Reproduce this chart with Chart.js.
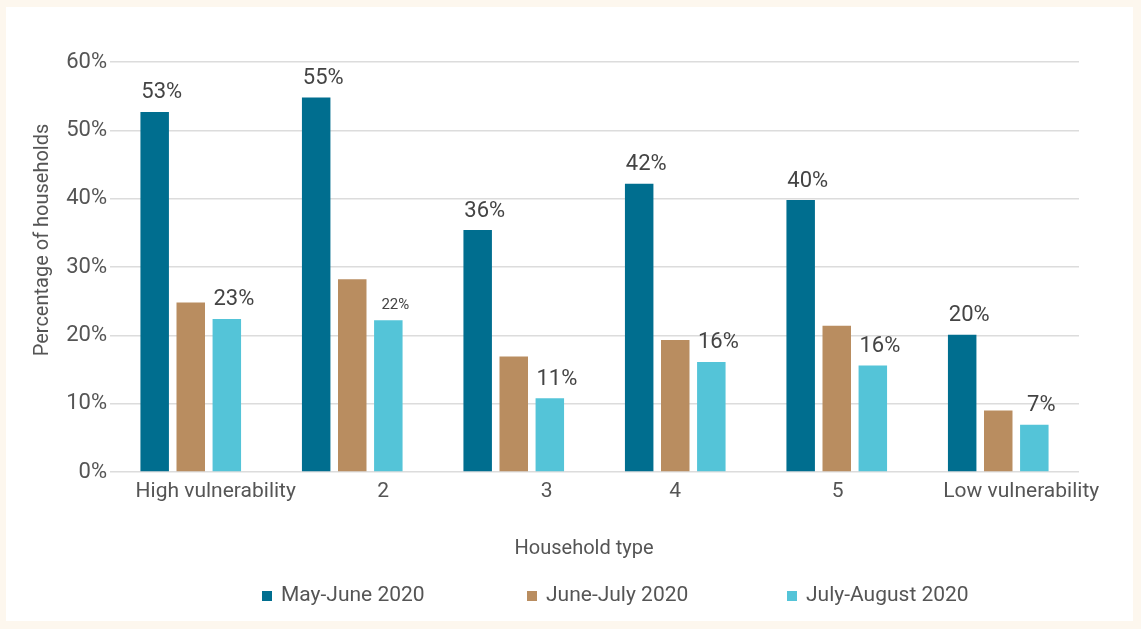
<!DOCTYPE html>
<html lang="en">
<head>
    <meta charset="UTF-8">
    <title>Household vulnerability</title>
    <script src="https://cdn.jsdelivr.net/npm/chart.js"></script>
    <style>
        html, body { margin: 0; padding: 0; background: #fdf7ee; }
        #panel { position: absolute; left: 6px; top: 7px; width: 1127px; height: 614px; background: #fff; }
    </style>
</head>
<body>
    <div id="panel"><canvas id="barChart" width="1127" height="614"></canvas></div>

    <script>
        const categorias = ['High vulnerability', '2', '3', '4', '5', 'Low vulnerability'];
        const series = ['May-June 2020', 'June-July 2020', 'July-August 2020'];
        const mayJune = [52.7, 54.8, 35.4, 42.2, 39.8, 20.1];
        const juneJuly = [24.8, 28.2, 16.9, 19.3, 21.4, 9.0];
        const julyAug = [22.4, 22.2, 10.8, 16.1, 15.6, 6.9];
        const mayJuneLabels = ['53%', '55%', '36%', '42%', '40%', '20%'];
        const julyAugLabels = ['23%', '22%', '11%', '16%', '16%', '7%'];
        const yTicks = ['0%', '10%', '20%', '30%', '40%', '50%', '60%'];

        const cores = ['#006e8f', '#b98d60', '#54c4d8'];
        const fonte = "Roboto, 'Liberation Sans', sans-serif";
        const cinza = '#555555';

        // no original os nomes das categorias não ficam bem centrados
        const deslocX = [25, 31, 33, 0, 1, 23];

        // rótulos em cima das barras (o "22%" é menor no original)
        const rotulos = {
            id: 'rotulos',
            afterDatasetsDraw(chart) {
                const ctx = chart.ctx;
                ctx.save();
                ctx.fillStyle = '#444';
                ctx.textAlign = 'center';
                ctx.textBaseline = 'bottom';
                chart.data.datasets.forEach((ds, i) => {
                    if (!ds.rotulos) return;
                    chart.getDatasetMeta(i).data.forEach((bar, j) => {
                        const pequeno = (i === 2 && j === 1);
                        ctx.font = (pequeno ? 15 : 22) + 'px ' + fonte;
                        ctx.fillText(ds.rotulos[j], bar.x + 7, bar.y - 8);
                    });
                });
                ctx.restore();
            }
        };

        // nomes das categorias, títulos dos eixos e legenda
        const textos = {
            id: 'textos',
            afterDraw(chart) {
                const ctx = chart.ctx;
                const x = chart.scales.x;
                ctx.save();
                ctx.fillStyle = cinza;
                ctx.font = '21px ' + fonte;
                ctx.textAlign = 'center';
                ctx.textBaseline = 'middle';
                categorias.forEach((c, i) => {
                    ctx.fillText(c, x.getPixelForValue(i) + deslocX[i], 485);
                });

                ctx.font = '20px ' + fonte;
                ctx.fillText('Household type', 578, 542);

                ctx.save();
                ctx.translate(37, 233);
                ctx.rotate(-Math.PI / 2);
                ctx.fillText('Percentage of households', 0, 0);
                ctx.restore();

                const xs = [256, 521, 781];
                const y = 589;
                ctx.font = '21px ' + fonte;
                ctx.textAlign = 'left';
                series.forEach((nome, i) => {
                    ctx.fillStyle = cores[i];
                    ctx.fillRect(xs[i], y - 5, 10, 10);
                    ctx.fillStyle = cinza;
                    ctx.fillText(nome, xs[i] + 19, y);
                });
                ctx.restore();
            }
        };

        const ctxBar = document.getElementById('barChart').getContext('2d');
        const barChart = new Chart(ctxBar, {
            type: 'bar',
            data: {
                labels: categorias,
                datasets: [
                    { label: series[0], data: mayJune, backgroundColor: cores[0], rotulos: mayJuneLabels },
                    { label: series[1], data: juneJuly, backgroundColor: cores[1] },
                    { label: series[2], data: julyAug, backgroundColor: cores[2], rotulos: julyAugLabels }
                ]
            },
            options: {
                responsive: false,
                animation: false,
                categoryPercentage: 0.67,
                barPercentage: 0.79,
                layout: { padding: { top: 55, right: 54, bottom: 49, left: 0 } },
                plugins: {
                    legend: { display: false },
                    tooltip: { enabled: false }
                },
                scales: {
                    x: {
                        grid: { display: false },
                        border: { display: false },
                        ticks: { display: false },
                        afterFit: s => { s.height = 100; }
                    },
                    y: {
                        min: 0,
                        max: 60,
                        border: { display: false },
                        grid: { color: '#dcdcdc', lineWidth: 1.5, drawTicks: false },
                        ticks: {
                            stepSize: 10,
                            color: cinza,
                            font: { family: fonte, size: 22 },
                            padding: 3,
                            callback: (v, i) => yTicks[i]
                        },
                        afterFit: s => { s.width = 104; }
                    }
                }
            },
            plugins: [rotulos, textos]
        });
    </script>
</body>
</html>
